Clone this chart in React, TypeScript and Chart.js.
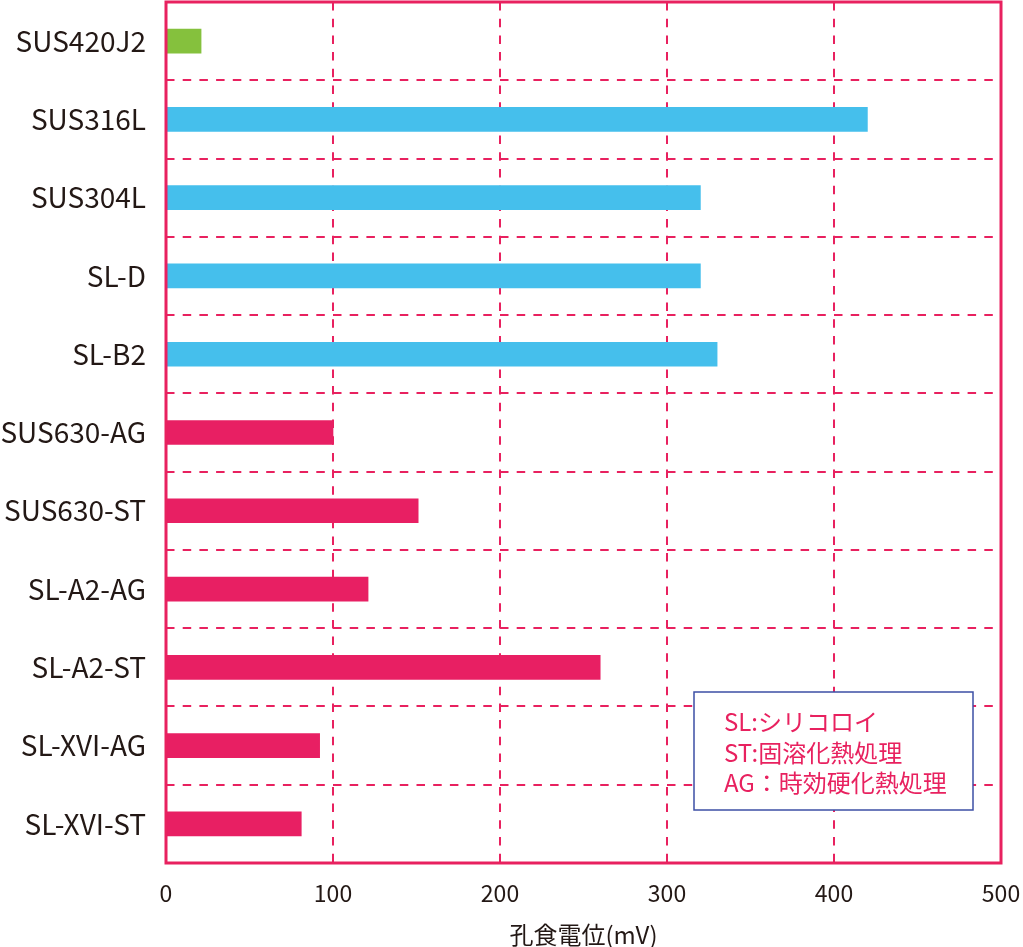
import React, { useEffect, useRef } from "react";
import { Chart, registerables } from "chart.js";

Chart.register(...registerables);

const categories = [
  "SUS420J2",
  "SUS316L",
  "SUS304L",
  "SL-D",
  "SL-B2",
  "SUS630-AG",
  "SUS630-ST",
  "SL-A2-AG",
  "SL-A2-ST",
  "SL-XVI-AG",
  "SL-XVI-ST",
];
const pittingPotential = [21, 420, 320, 320, 330, 100, 151, 121, 260, 92, 81];
const groups = ["green", "blue", "blue", "blue", "blue", "red", "red", "red", "red", "red", "red"];
const xTicks = [0, 100, 200, 300, 400, 500];
const xTitle = "孔食電位(mV)";
const noteLines = ["SL:シリコロイ", "ST:固溶化熱処理", "AG：時効硬化熱処理"];

const PINK = "#E8215F";
const BAR_RED = "#E81F63";
const BLUE = "#45BFEC";
const GREEN = "#85C13D";
const TEXT = "#231815";
const NOTE_BORDER = "#3D4FA5";
const FONT = "'Noto Sans CJK JP', 'Noto Sans', sans-serif";

const colorOf: Record<string, string> = { green: GREEN, blue: BLUE, red: BAR_RED };

const framePlugin = {
  id: "frameAndNote",
  afterDatasetsDraw(chart: any) {
    const { ctx, chartArea } = chart;
    ctx.save();
    ctx.strokeStyle = PINK;
    ctx.lineWidth = 3;
    ctx.setLineDash([]);
    ctx.strokeRect(chartArea.left, chartArea.top, chartArea.right - chartArea.left, chartArea.bottom - chartArea.top);
    const bx = chartArea.right - 307;
    const by = chartArea.bottom - 171;
    const bw = 279;
    const bh = 118;
    ctx.fillStyle = "#ffffff";
    ctx.fillRect(bx, by, bw, bh);
    ctx.strokeStyle = NOTE_BORDER;
    ctx.lineWidth = 1.5;
    ctx.strokeRect(bx, by, bw, bh);
    ctx.fillStyle = PINK;
    ctx.font = `24px ${FONT}`;
    ctx.textAlign = "left";
    ctx.textBaseline = "middle";
    noteLines.forEach((t, i) => {
      ctx.fillText(t, bx + 30, by + 30 + i * 30.5);
    });
    ctx.restore();
  },
};

export default function App() {
  const ref = useRef<HTMLCanvasElement | null>(null);

  useEffect(() => {
    document.body.style.margin = "0";
    if (!ref.current) return;
    const chart = new Chart(ref.current, {
      type: "bar",
      data: {
        labels: categories,
        datasets: [
          {
            data: pittingPotential,
            backgroundColor: groups.map((g) => colorOf[g]),
            borderWidth: 0,
            barThickness: 24,
          },
        ],
      },
      options: {
        indexAxis: "y",
        animation: false,
        responsive: false,
        devicePixelRatio: 1,
        layout: { padding: { top: 2, right: 22, left: 0, bottom: 0 } },
        plugins: {
          legend: { display: false },
          tooltip: { enabled: false },
        },
        scales: {
          x: {
            type: "linear",
            min: 0,
            max: 500,
            afterBuildTicks: (scale: any) => {
              scale.ticks = xTicks.map((v) => ({ value: v }));
            },
            afterFit: (scale: any) => {
              scale.height = 84;
              scale.paddingLeft = 0;
              scale.paddingRight = 0;
            },
            grid: {
              color: PINK,
              lineWidth: 2,
              drawTicks: false,
            },
            border: { display: false, dash: [8.5, 8.2] },
            ticks: {
              color: TEXT,
              font: { family: FONT, size: 23 },
              padding: 16,
              maxRotation: 0,
            },
            title: {
              display: true,
              text: xTitle,
              color: TEXT,
              font: { family: FONT, size: 24, lineHeight: 1 },
              padding: 0,
            },
          },
          y: {
            type: "category",
            afterFit: (scale: any) => {
              scale.width = 166;
              scale.paddingTop = 0;
              scale.paddingBottom = 0;
            },
            grid: {
              color: PINK,
              lineWidth: 2,
              drawTicks: false,
              offset: true,
            },
            border: { display: false, dash: [8.5, 8.2] },
            ticks: {
              color: TEXT,
              font: { family: FONT, size: 28 },
              padding: 20,
            },
          },
        },
      },
      plugins: [framePlugin],
    });
    return () => chart.destroy();
  }, []);

  return (
    <div style={{ width: 1023, height: 947 }}>
      <canvas ref={ref} width={1023} height={947} style={{ display: "block" }} />
    </div>
  );
}
